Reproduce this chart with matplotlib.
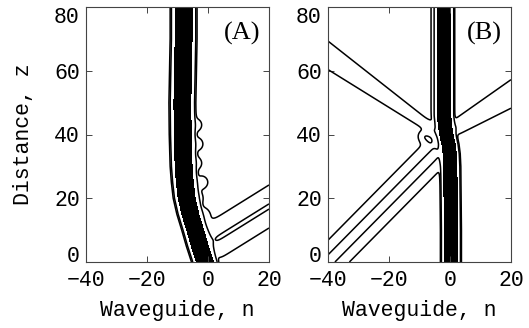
import numpy as np
import matplotlib
matplotlib.use("Agg")
import matplotlib.pyplot as plt

# ---------------- values ----------------
x_limits = [-40, 20]
y_limits = [0, 80]
x_ticks = [-40, -20, 0, 20]
y_ticks = [0, 20, 40, 60, 80]
panel_labels = ["(A)", "(B)"]
x_label = "Waveguide, n"
y_label = "Distance, z"

# contour levels of the intensity (two lines, one filled core)
line_levels = [0.0005, 0.002]
core_level = 0.05

# Panel A: soliton centre n(z) and its width
a_sol_z = [0, 5, 10, 15, 20, 25, 30, 40, 50, 60, 70, 80]
a_sol_n = [-1.0, -2.7, -4.2, -5.8, -7.0, -7.6, -8.0, -8.3, -8.4, -8.2, -8.0, -8.0]
a_sol_w = 1.6
# Panel A radiated beam: centre start/end (n, z), outer and inner contour half-widths
a_beam_n = [0.0, 24.0]
a_beam_z = [5.5, 19.8]
a_beam_outer = [5.8, 5.8]
a_beam_inner = [0.7, 0.7]
# Panel A radiation ripples on the right flank of the soliton
a_rad_n = [-1.6, -3.6, -2.0, -4.0, -3.6, -4.0]
a_rad_z = [15.0, 20.0, 25.0, 31.0, 37.0, 43.0]
a_rad_amp = 0.001
a_rad_w = 2.3

# Panel B: soliton centre n(z) and width
b_sol_z = [0, 10, 20, 30, 34, 37, 40, 43, 46, 50, 60, 70, 80]
b_sol_n = [0.3, 0.3, 0.2, 0.1, -0.1, -0.5, -1.2, -1.7, -1.9, -1.9, -1.9, -1.9, -1.9]
b_sol_w = 1.25
# Panel B beams: incoming lower-left, outgoing upper-left, outgoing upper-right
b_in_n = [-46.0, -3.0]
b_in_z = [-5.8, 35.9]
b_in_outer = [4.9, 4.9]
b_in_inner = [1.6, 1.6]

b_left_n = [-2.0, -46.0]
b_left_z = [39.2, 68.7]
b_left_outer = [1.2, 4.1]

b_right_n = [0.0, 25.0]
b_right_z = [41.1, 55.4]
b_right_outer = [2.2, 4.3]

# Panel B weak halo on the left of the upper soliton
b_halo_n = [-3.6, -3.6]
b_halo_z = [44.0, 90.0]
b_halo_outer = [2.6, 2.6]
# Panel B scattered light where the beams meet the soliton
b_rad_n = [-8.5, -6.5]
b_rad_z = [39.5, 38.5]
b_rad_amp = 0.0014
b_rad_w = 1.8

# ---------------- field construction ----------------
n_grid = np.linspace(-40, 20, 601)
z_grid = np.linspace(0, 80, 801)
N, Z = np.meshgrid(n_grid, z_grid)
L1, L2 = line_levels


def soliton(zs, ns, w):
    nc = np.interp(Z, zs, ns)
    return np.exp(-((N - nc) / w) ** 2)


def beam(ns, zs, outer, inner=None, fade_end=False, ls=1.5):
    p0 = np.array([ns[0], zs[0]])
    p1 = np.array([ns[1], zs[1]])
    length = np.hypot(*(p1 - p0))
    u = (p1 - p0) / length
    s = (N - p0[0]) * u[0] + (Z - p0[1]) * u[1]
    d = -(N - p0[0]) * u[1] + (Z - p0[1]) * u[0]
    frac = np.clip(s / length, 0, 1)
    d1 = outer[0] + (outer[1] - outer[0]) * frac
    if inner is not None:
        d2 = inner[0] + (inner[1] - inner[0]) * frac
        wb2 = (d1 ** 2 - d2 ** 2) / np.log(L2 / L1)
        amp = L2 * np.exp(d2 ** 2 / wb2)
    else:
        amp = 0.85 * L2
        wb2 = d1 ** 2 / np.log(amp / L1)
    env = 0.5 * (1 + np.tanh(s / ls))
    if fade_end:
        env = env * 0.5 * (1 + np.tanh((length - s) / ls))
    return amp * np.exp(-d ** 2 / wb2) * env


def blobs(ns, zs, amp, w):
    out = np.zeros_like(N)
    for nb, zb in zip(ns, zs):
        out += amp * np.exp(-((N - nb) ** 2 + (Z - zb) ** 2) / w ** 2)
    return out


field_a = (soliton(a_sol_z, a_sol_n, a_sol_w)
           + beam(a_beam_n, a_beam_z, a_beam_outer, a_beam_inner)
           + blobs(a_rad_n, a_rad_z, a_rad_amp, a_rad_w))
field_b = (soliton(b_sol_z, b_sol_n, b_sol_w)
           + beam(b_in_n, b_in_z, b_in_outer, b_in_inner, fade_end=True)
           + beam(b_left_n, b_left_z, b_left_outer)
           + beam(b_right_n, b_right_z, b_right_outer)
           + beam(b_halo_n, b_halo_z, b_halo_outer)
           + blobs(b_rad_n, b_rad_z, b_rad_amp, b_rad_w))

# ---------------- drawing ----------------
fig = plt.figure(figsize=(5.29, 3.28), dpi=100)
W, H = 529, 328
rects = [[86 / W, 1 - 262 / H, 183 / W, 255 / H],
         [328 / W, 1 - 262 / H, 183 / W, 255 / H]]
mono = "Liberation Mono"

for i, (field, label) in enumerate(zip([field_a, field_b], panel_labels)):
    ax = fig.add_axes(rects[i])
    ax.contourf(N, Z, field, levels=[core_level, field.max() + 1], colors="k")
    ax.contour(N, Z, field, levels=line_levels, colors="k", linewidths=1.1)
    ax.set_xlim(x_limits)
    ax.set_ylim(y_limits)
    ax.set_xticks(x_ticks)
    ax.set_yticks(y_ticks)
    ax.tick_params(direction="in", top=True, right=True, length=4, width=0.7,
                   labelsize=15.5, color="#444")
    ax.tick_params(axis="x", pad=5.5)
    ax.tick_params(axis="y", pad=4.5)
    for t in ax.get_xticklabels() + ax.get_yticklabels():
        t.set_fontfamily(mono)
    ylabs = ax.get_yticklabels()
    ylabs[0].set_verticalalignment("baseline")
    ylabs[-1].set_verticalalignment("top")
    for sp in ax.spines.values():
        sp.set_linewidth(0.8)
        sp.set_color("#444")
    ax.set_xlabel(x_label, fontfamily=mono, fontsize=15.5)
    ax.xaxis.set_label_coords(0.5, -0.149)
    if i == 0:
        ax.set_ylabel(y_label, fontfamily=mono, fontsize=15.5)
        ax.yaxis.set_label_coords(-0.284, 0.5)
    ax.text(0.852, 0.898, label, transform=ax.transAxes, ha="center", va="center",
            fontfamily="Liberation Serif", fontsize=19)

fig.savefig("out.png", dpi=100)
